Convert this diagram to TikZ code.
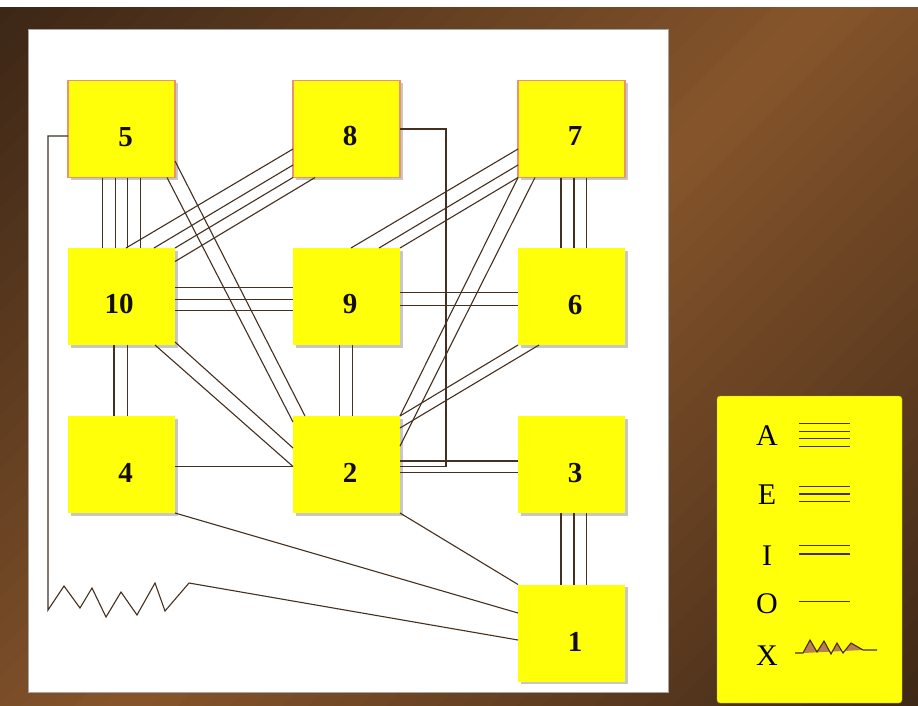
\documentclass[tikz,border=0pt]{standalone}
\usepackage{fontspec}
\setmainfont{Liberation Serif}
\usetikzlibrary{shadows}
\definecolor{brownD}{HTML}{3C2616}
\definecolor{brownL}{HTML}{86552B}
\definecolor{lineC}{HTML}{45301F}
\definecolor{salmonC}{HTML}{E8956E}
\definecolor{tanC}{HTML}{B9804F}
\definecolor{yelC}{HTML}{FFFF0A}
\begin{document}
\begin{tikzpicture}[x=1pt,y=-1pt,
	dept/.style={fill=yelC, minimum width=107pt, minimum height=97pt, inner sep=0pt, outer sep=0pt,
		drop shadow={shadow xshift=2.5pt, shadow yshift=-2.5pt, fill=black!55, opacity=.4}},
	depttop/.style={dept, draw=salmonC, line width=1.4pt},
	num/.style={font=\fontsize{29}{32}\selectfont\bfseries, text=black!90!brown, inner sep=0pt, text height=19pt, text depth=0pt},
	letter/.style={font=\fontsize{30}{32}\selectfont, inner sep=0pt, text height=20pt, text depth=0pt},
	rel/.style={lineC, line width=1.1pt}]
		\useasboundingbox (0,0) rectangle (918,705);
		\fill[white] (0,0) rectangle (918,705);
		% background bands
		\begin{scope}
			\clip (0,7) rectangle (918,705);
			\foreach \i in {0,...,63} {
				\pgfmathsetmacro\m{100*(1-abs(2*\i/63-1))}
				\fill[brownL!\m!brownD] (\i*26,0) -- (\i*26+27,0) -- (\i*26+27-800,800) -- (\i*26-800,800) -- cycle;
			}
		\end{scope}
		\draw[fill=white, draw=black!35] (28,29) rectangle (668,692);
		%
		\node[depttop] (b5) at (121.5,129) {};
		\node[depttop] (b8) at (346.5,129) {};
		\node[depttop] (b7) at (571.5,129) {};
		\node[dept] (b10) at (121.5,296.5) {};
		\node[dept] (b9) at (346.5,296.5) {};
		\node[dept] (b6) at (571.5,296.5) {};
		\node[dept] (b4) at (121.5,464.5) {};
		\node[dept] (b2) at (346.5,464.5) {};
		\node[dept] (b3) at (571.5,464.5) {};
		\node[dept] (b1) at (571.5,633) {};
		%
		\node[num] (t5) at (125.5,136.5) {5};
		\node[num] (t8) at (350,136) {8};
		\node[num] (t7) at (575,136) {7};
		\node[num] (t10) at (119,304) {10};
		\node[num] (t9) at (350,304) {9};
		\node[num] (t6) at (575,305) {6};
		\node[num] (t4) at (125.5,473) {4};
		\node[num] (t2) at (350,473) {2};
		\node[num] (t3) at (575,473) {3};
		\node[num] (t1) at (575,641.5) {1};
		%
		% A
		\draw[rel] ([shift={(-18.75,0)}]b5.south) -- ([shift={(-18.75,0)}]b10.north);
		\draw[rel] ([shift={(-6.25,0)}]b5.south) -- ([shift={(-6.25,0)}]b10.north);
		\draw[rel] ([shift={(6.25,0)}]b5.south) -- ([shift={(6.25,0)}]b10.north);
		\draw[rel] ([shift={(18.75,0)}]b5.south) -- ([shift={(18.75,0)}]b10.north);
		\draw[rel] ([shift={(0,20)}]b8.west) -- ([shift={(4.5,0)}]b10.north);
		\draw[rel] ([shift={(0,36)}]b8.west) -- ([shift={(32.5,0)}]b10.north);
		\draw[rel] (b8.south west) -- (b10.north east);
		\draw[rel] ([shift={(22,0)}]b8.south west) -- ([shift={(0,13.5)}]b10.north east);
		%
		% E
		\draw[rel] ([shift={(0,20)}]b7.west) -- ([shift={(4.5,0)}]b9.north);
		\draw[rel] ([shift={(0,36)}]b7.west) -- ([shift={(32.5,0)}]b9.north);
		\draw[rel] (b7.south west) -- (b9.north east);
		\draw[rel] ([shift={(-10.5,0)}]b7.south) -- ([shift={(-10.5,0)}]b6.north);
		\draw[rel] ([shift={(2.5,0)}]b7.south) -- ([shift={(2.5,0)}]b6.north);
		\draw[rel] ([shift={(15,0)}]b7.south) -- ([shift={(15,0)}]b6.north);
		\draw[rel] ([shift={(0,-8.75)}]b10.east) -- ([shift={(0,-8.75)}]b9.west);
		\draw[rel] ([shift={(0,2.75)}]b10.east) -- ([shift={(0,2.75)}]b9.west);
		\draw[rel] ([shift={(0,14.25)}]b10.east) -- ([shift={(0,14.25)}]b9.west);
		\draw[rel] ([shift={(-10.5,0)}]b3.south) -- ([shift={(-10.5,0)}]b1.north);
		\draw[rel] ([shift={(2.5,0)}]b3.south) -- ([shift={(2.5,0)}]b1.north);
		\draw[rel] ([shift={(15,0)}]b3.south) -- ([shift={(15,0)}]b1.north);
		%
		% I
		\draw[rel] ([shift={(0,32)}]b5.east) -- ([shift={(12,0)}]b2.north west);
		\draw[rel] ([shift={(-8,0)}]b5.south east) -- ([shift={(0,6)}]b2.north west);
		\draw[rel] ([shift={(33.5,0)}]b10.south) -- ([shift={(0,2)}]b2.west);
		\draw[rel] ([shift={(0,-3)}]b10.south east) -- ([shift={(0,-16.5)}]b2.west);
		\draw[rel] ([shift={(-7.5,0)}]b10.south) -- ([shift={(-7.5,0)}]b4.north);
		\draw[rel] ([shift={(6,0)}]b10.south) -- ([shift={(6,0)}]b4.north);
		\draw[rel] ([shift={(-7,0)}]b9.south) -- ([shift={(-7,0)}]b2.north);
		\draw[rel] ([shift={(6,0)}]b9.south) -- ([shift={(6,0)}]b2.north);
		\draw[rel] ([shift={(0,-4)}]b9.east) -- ([shift={(0,-4)}]b6.west);
		\draw[rel] ([shift={(0,9)}]b9.east) -- ([shift={(0,9)}]b6.west);
		\draw[rel] (b7.south west) -- (b2.north east);
		\draw[rel] ([shift={(17,0)}]b7.south west) -- ([shift={(0,-18.5)}]b2.east);
		\draw[rel] (b6.south west) -- (b2.north east);
		\draw[rel] ([shift={(21,0)}]b6.south west) -- ([shift={(0,12)}]b2.north east);
		\draw[rel] ([shift={(0,-3.5)}]b2.east) -- ([shift={(0,-3.5)}]b3.west);
		\draw[rel] ([shift={(0,8)}]b2.east) -- ([shift={(0,8)}]b3.west);
		%
		% O
		\draw[rel] ([shift={(0,2.2)}]b4.east) -- ([shift={(0,2.2)}]b2.west);
		\draw[rel] (b8.east) -- ++(46,0) |- ([shift={(0,2)}]b2.east);
		\draw[rel] (b2.south east) -- (b1.north west);
		\draw[rel] (b4.south east) -- ([shift={(0,-20)}]b1.west);
		%
		% X
		\draw[rel] ([shift={(0,7)}]b5.west) -- (48,136) -- (48,610) -- (64,586) -- (80,608) -- (92,588)
			-- (106,617) -- (121,592) -- (137,615) -- (155,583) -- (165,611) -- (189,583) -- ([shift={(0,7)}]b1.west);
		%
		% key
		\node[fill=yelC, draw=yelC!70!black, line width=0.4pt, rounded corners=3pt, minimum width=185pt,
			minimum height=307pt, inner sep=0pt] (key) at (809.5,549.5) {};
		\node[letter] (lA) at (767,435) {A};
		\node[letter] (lE) at (767,494) {E};
		\node[letter] (lI) at (767,555) {I};
		\node[letter] (lO) at (767,603) {O};
		\node[letter] (lX) at (767,655) {X};
		\draw[rel] ([shift={(32,-11.5)}]lA.center) -- ++(51,0);
		\draw[rel] ([shift={(32,-3.8)}]lA.center) -- ++(51,0);
		\draw[rel] ([shift={(32,3.8)}]lA.center) -- ++(51,0);
		\draw[rel] ([shift={(32,11.5)}]lA.center) -- ++(51,0);
		\draw[rel] ([shift={(32,-7.3)}]lE.center) -- ++(51,0);
		\draw[rel] ([shift={(32,0)}]lE.center) -- ++(51,0);
		\draw[rel] ([shift={(32,7.3)}]lE.center) -- ++(51,0);
		\draw[rel] ([shift={(32,-9.3)}]lI.center) -- ++(51,0);
		\draw[rel] ([shift={(32,-1)}]lI.center) -- ++(51,0);
		\draw[rel] ([shift={(32,-1.3)}]lO.center) -- ++(51,0);
		\fill[tanC] (803,653) -- (810,640) -- (817,652) -- (824,641) -- (831,654) -- (837,643) -- (843,653)
			-- (851,643) -- (863,650) -- cycle;
		\draw[rel] (795,653) -- (803,653) -- (810,640) -- (817,652) -- (824,641) -- (831,654) -- (837,643)
			-- (843,653) -- (851,643) -- (863,650) -- (877,650);
		%
	\end{tikzpicture}
\end{document}
